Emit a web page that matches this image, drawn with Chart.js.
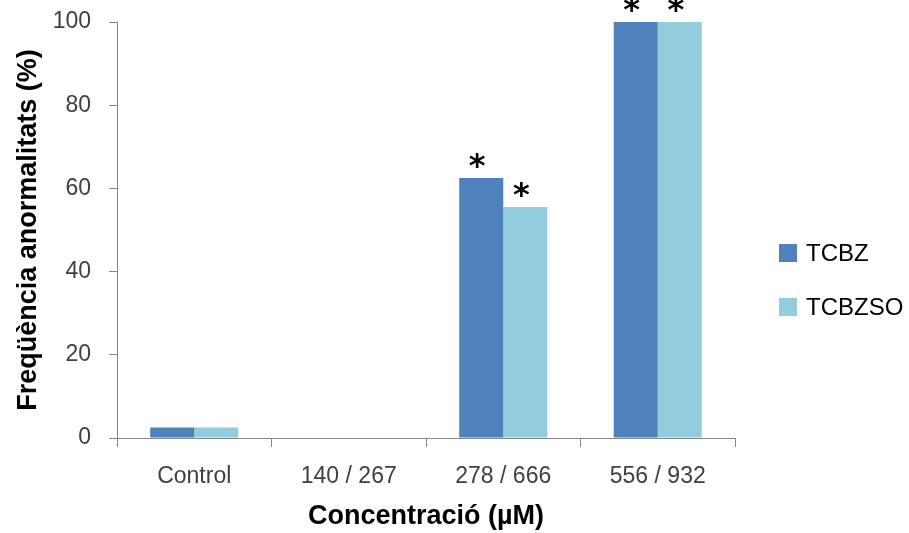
<!DOCTYPE html>
<html>
<head>
<meta charset="utf-8">
<script src="https://cdn.jsdelivr.net/npm/chart.js@4.4.1/dist/chart.umd.min.js"></script>
<style>
  html, body { margin: 0; padding: 0; background: #ffffff; }
  #wrap { width: 909px; height: 533px; position: relative; }
</style>
</head>
<body>
<div id="wrap"><canvas id="c" width="909" height="533"></canvas></div>
<script>
// Concentration groups (TCBZ / TCBZSO, µM)
const categories = ['Control', '140 / 267', '278 / 666', '556 / 932'];
const seriesNames = ['TCBZ', 'TCBZSO'];
const tcbz = [2.5, 0, 62.5, 100];
const tcbzso = [2.5, 0, 55.5, 100];
// Significant differences from control, marked with an asterisk
const tcbzSignificant = [false, false, true, true];
const tcbzsoSignificant = [false, false, true, true];
const yTicks = [0, 20, 40, 60, 80, 100];

const colors = ['#4F81BD', '#93CDDD'];
const axisGray = '#868686';
const labelGray = '#404040';
const fontFamily = '"Liberation Sans", Arial, sans-serif';

// Asterisks above significant bars
const significancePlugin = {
  id: 'significance',
  afterDatasetsDraw(chart) {
    const ctx = chart.ctx;
    const flags = [tcbzSignificant, tcbzsoSignificant];
    ctx.save();
    ctx.font = 'bold 32px "DejaVu Sans", sans-serif';
    ctx.fillStyle = '#000000';
    ctx.textAlign = 'center';
    ctx.textBaseline = 'alphabetic';
    const m = ctx.measureText('*');
    const mid = (m.actualBoundingBoxAscent - m.actualBoundingBoxDescent) / 2;
    chart.data.datasets.forEach((ds, di) => {
      const meta = chart.getDatasetMeta(di);
      meta.data.forEach((bar, i) => {
        if (!flags[di][i]) return;
        const cy = bar.y - 18;
        ctx.fillText('*', bar.x - 4, cy + mid);
      });
    });
    ctx.restore();
  }
};

// Legend at the right of the plot
const sideLegendPlugin = {
  id: 'sideLegend',
  afterDraw(chart) {
    const ctx = chart.ctx;
    ctx.save();
    ctx.font = '24px ' + fontFamily;
    ctx.textBaseline = 'middle';
    ctx.textAlign = 'left';
    chart.data.datasets.forEach((ds, i) => {
      const cy = 253 + i * 54;
      ctx.fillStyle = ds.backgroundColor;
      ctx.fillRect(779, cy - 9, 18, 18);
      ctx.fillStyle = '#000000';
      ctx.fillText(ds.label, 806, cy + 1);
    });
    ctx.restore();
  }
};

new Chart(document.getElementById('c'), {
  type: 'bar',
  data: {
    labels: categories,
    datasets: [
      { label: seriesNames[0], data: tcbz, backgroundColor: colors[0] },
      { label: seriesNames[1], data: tcbzso, backgroundColor: colors[1] }
    ]
  },
  options: {
    responsive: false,
    animation: false,
    devicePixelRatio: 1,
    layout: { padding: { top: 22, right: 174, bottom: 0, left: 0 } },
    datasets: { bar: { barPercentage: 1, categoryPercentage: 0.57, borderWidth: 0 } },
    plugins: { legend: { display: false }, tooltip: { enabled: false } },
    scales: {
      x: {
        offset: true,
        grid: { display: true, offset: true, drawOnChartArea: false, drawTicks: true, tickLength: 9, color: axisGray, lineWidth: 1 },
        border: { display: true, color: axisGray, width: 1 },
        ticks: { color: labelGray, font: { family: fontFamily, size: 23 }, padding: 16, maxRotation: 0 },
        title: { display: true, text: 'Concentració (µM)', color: '#000000', font: { family: fontFamily, size: 27, weight: 'bold' }, padding: { top: 0, bottom: 0 } },
        afterFit(scale) { scale.height = 95; scale.paddingLeft = 0; scale.paddingRight = 0; }
      },
      y: {
        min: 0,
        max: 100,
        afterBuildTicks(scale) { scale.ticks = yTicks.map(v => ({ value: v })); },
        grid: { display: true, drawOnChartArea: false, drawTicks: true, tickLength: 8, color: axisGray, lineWidth: 1 },
        border: { display: true, color: axisGray, width: 1 },
        ticks: { color: labelGray, font: { family: fontFamily, size: 23 }, padding: 18 },
        title: { display: true, text: 'Freqüència anormalitats (%)', color: '#000000', font: { family: fontFamily, size: 27, weight: 'bold' }, padding: { top: 12, bottom: 0 } },
        afterFit(scale) { scale.width = 117; scale.paddingTop = 0; scale.paddingBottom = 0; }
      }
    }
  },
  plugins: [significancePlugin, sideLegendPlugin]
});
</script>
</body>
</html>
